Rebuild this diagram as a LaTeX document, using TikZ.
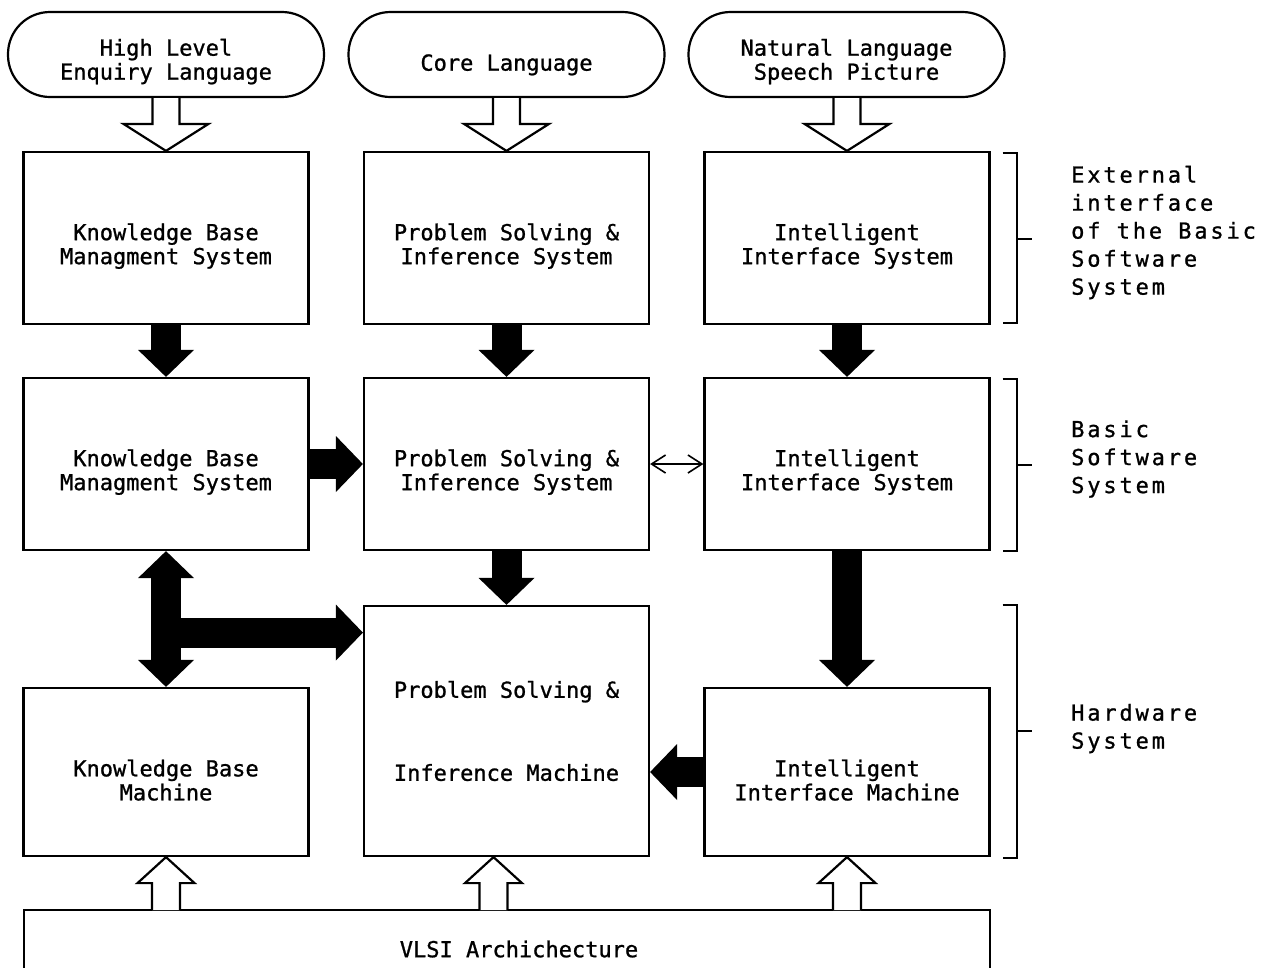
\documentclass[tikz,border=0pt]{standalone}
\usepackage{fontspec}
\newfontfamily\plotfont[FakeBold=1]{DejaVu Sans Mono}
\newfontfamily\sidefont[LetterSpace=13,FakeBold=1]{DejaVu Sans Mono}
\usetikzlibrary{arrows.meta,calc}

% struts that lower the first text line inside a frame
\newcommand\dropA{\rule{0pt}{33pt}}
\newcommand\dropB{\rule{0pt}{31pt}}
\newcommand\dropC{\rule{0pt}{37pt}}

% vertical block arrows with a white body and black outline, open at the tail
\newcommand\hollowdown[5]{%
  \filldraw[hollow] let \p1=(#1), \p2=(#2) in
    (\x2-#3,\y1) -- (\x2-#3,\y2+#5) -- (\x2-#4,\y2+#5) -- (\x2,\y2)
    -- (\x2+#4,\y2+#5) -- (\x2+#3,\y2+#5) -- (\x2+#3,\y1);}
\newcommand\hollowup[5]{%
  \filldraw[hollow] let \p1=(#1), \p2=(#2) in
    (\x2-#3,\y1) -- (\x2-#3,\y2-#5) -- (\x2-#4,\y2-#5) -- (\x2,\y2)
    -- (\x2+#4,\y2-#5) -- (\x2+#3,\y2-#5) -- (\x2+#3,\y1);}

\begin{document}
\begin{tikzpicture}[x=1pt,y=-1pt,
  every node/.style={font={\plotfont\fontsize{22}{24}\selectfont}},
  box/.style={draw, line width=2.2pt, minimum width=285pt, minimum height=172pt,
    align=center, inner sep=0pt},
  lang/.style={draw, line width=2.2pt, rounded corners=42pt, minimum width=316pt,
    minimum height=85pt, align=center, inner sep=0pt},
  hollow/.style={fill=white, draw=black, line width=2.2pt, line join=miter},
  solid arrow/.style={line width=30pt, -{Triangle[line width=0pt,length=27pt,width=56pt]}},
  twin arrow/.style={line width=30pt,
    {Triangle[line width=0pt,length=27pt,width=56pt]}-{Triangle[line width=0pt,length=27pt,width=56pt]}},
  link arrow/.style={line width=1.6pt, {Straight Barb[length=14pt,width=18pt]}-{Straight Barb[length=14pt,width=18pt]}},
  bracket/.style={line width=2.2pt},
  side/.style={font={\sidefont\fontsize{22}{28}\selectfont}, align=left, inner sep=0pt, anchor=west}
]
\useasboundingbox (0,0) rectangle (1276,967);

% language layer
\node[lang] (L1) at (166,54.5) {\dropB High Level\\Enquiry Language};
\node[lang] (L2) at (506.5,54.5) {\dropC Core Language};
\node[lang] (L3) at (846.5,54.5) {\dropB Natural Language\\Speech Picture};

% external interface
\node[box] (K1) at (166,238) {\dropA Knowledge Base\\Managment System};
\node[box] (P1) at (506.5,238) {\dropA Problem Solving \&\\Inference System};
\node[box] (I1) at (847,238) {\dropA Intelligent\\Interface System};

% basic software
\node[box] (K2) at (166,464) {\dropA Knowledge Base\\Managment System};
\node[box] (P2) at (506.5,464) {\dropA Problem Solving \&\\Inference System};
\node[box] (I2) at (847,464) {\dropA Intelligent\\Interface System};

% hardware
\node[box, minimum height=168pt] (K3) at (166,772) {\dropA Knowledge Base\\Machine};
\node[box, minimum height=250pt] (P3) at (506.5,731) {Problem Solving \&\\[59pt]Inference Machine};
\node[box, minimum height=168pt] (I3) at (847,772) {\dropA Intelligent\\Interface Machine};

% VLSI base, running off the lower edge
\coordinate (Vnw) at (24,910);
\coordinate (Vne) at (990,910);
\draw[line width=2.2pt] (Vnw |- 0,980) -- (Vnw) -- (Vne) -- (Vne |- 0,980);
\node (V) at (519,949) {VLSI Archichecture};

% languages feeding the top layer
\hollowdown{L1.south}{K1.north}{13.5pt}{42.5pt}{27pt}
\hollowdown{L2.south}{P1.north}{13.5pt}{42.5pt}{27pt}
\hollowdown{L3.south}{I1.north}{13.5pt}{42.5pt}{27pt}

% VLSI supporting the machines
\hollowup{Vnw}{K3.south}{14pt}{28.5pt}{26pt}
\hollowup{Vnw}{$(P3.south)+(-13,0)$}{14pt}{28.5pt}{26pt}
\hollowup{Vnw}{I3.south}{14pt}{28.5pt}{26pt}

% solid data paths
\draw[solid arrow] (K1.south) -- (K2.north);
\draw[solid arrow] (P1.south) -- (P2.north);
\draw[solid arrow] (I1.south) -- (I2.north);
\draw[solid arrow] (K2.east) -- (P2.west);
\draw[solid arrow] (P2.south) -- (P3.north);
\draw[solid arrow] (I2.south) -- (I3.north);
\draw[solid arrow] (I3.west) -- (I3.west -| P3.east);
\draw[twin arrow] (K2.south) -- (K3.north);
\coordinate (J) at ($(K2.south)!0.6!(K3.north)$);
\draw[solid arrow] (J) -- (J -| P3.west);
\draw[link arrow] (P2.east) -- (I2.west);

% layer brackets
\draw[bracket] ($(I1.north east)+(12,2)$) -- ++(14,0) coordinate (B1) -- ($(I1.south east)+(26,-2)$) -- ++(-14,0);
\draw[bracket] ($(B1)!0.5!(I1.south east -| B1)$) -- ++(15,0);
\draw[bracket] ($(I2.north east)+(12,2)$) -- ++(14,0) coordinate (B2) -- ($(I2.south east)+(26,0)$) -- ++(-14,0);
\draw[bracket] ($(B2)!0.5!(I2.south east -| B2)$) -- ++(15,0);
\draw[bracket] ($(P3.north east -| I3.east)+(12,0)$) -- ++(14,0) coordinate (B3) -- ($(I3.south east)+(26,1)$) -- ++(-14,0);
\draw[bracket] ($(B3)!0.5!(I3.south east -| B3)$) -- ++(15,0);

\node[side] (S1) at (1071,232.5) {External\\interface\\of the Basic\\Software\\System};
\node[side] (S2) at (1071,459) {Basic\\Software\\System};
\node[side] (S3) at (1071,728.5) {Hardware\\System};
\end{tikzpicture}
\end{document}
